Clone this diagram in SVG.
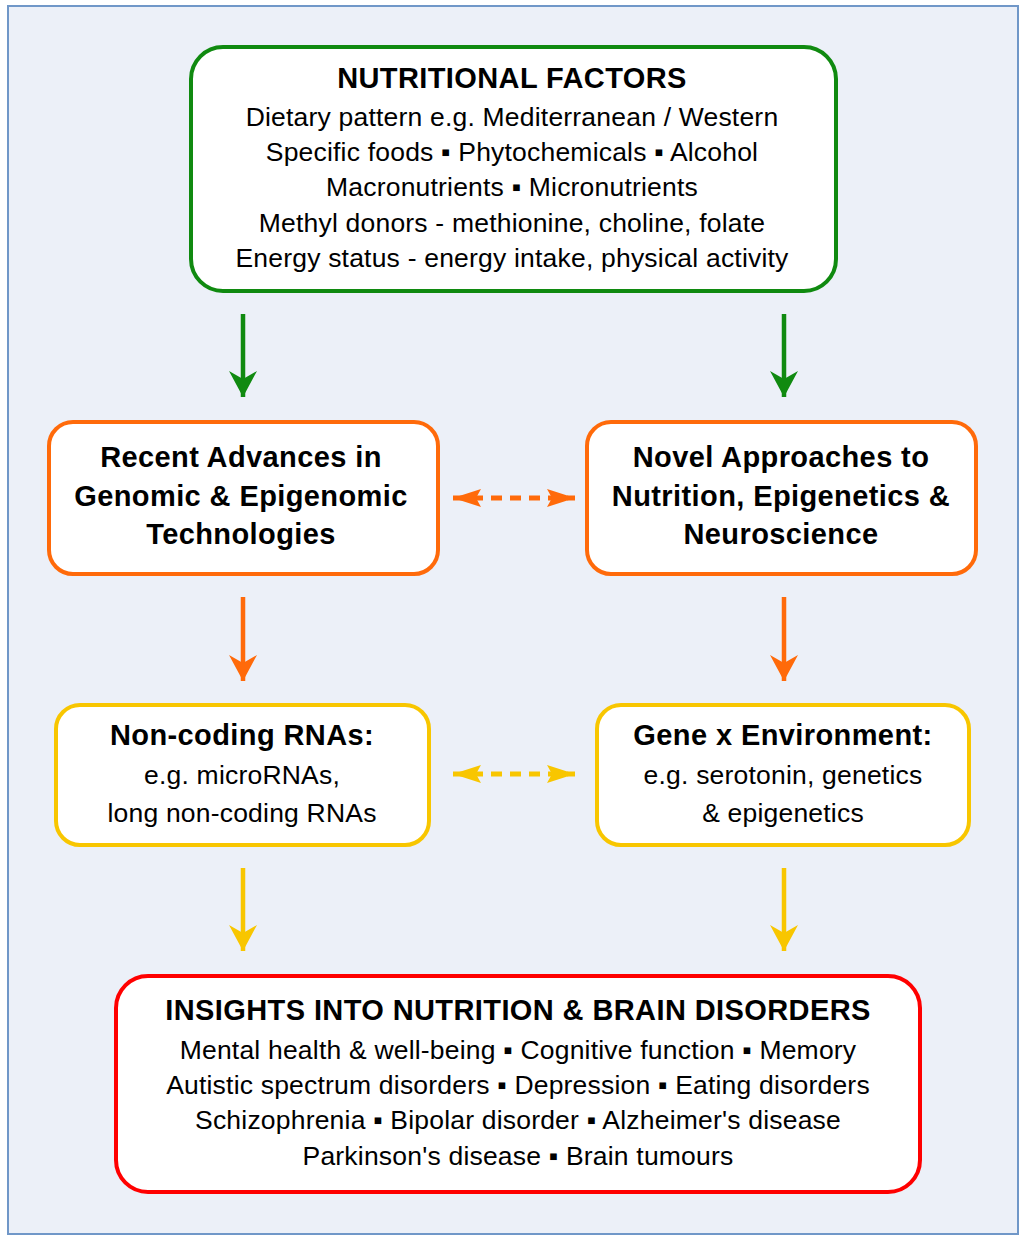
<svg xmlns="http://www.w3.org/2000/svg" width="1024" height="1241" viewBox="0 0 1024 1241">
<defs>
<style>
.bg{fill:#ECF0F8;stroke:#7097C8;stroke-width:2}
.box{fill:#FFFFFF;stroke-width:4}
.h{font-family:"Liberation Sans",Arial,sans-serif;font-weight:bold;font-size:29px;letter-spacing:0.4px;fill:#000;text-anchor:middle}
.t{font-family:"Liberation Sans",Arial,sans-serif;font-size:26.5px;letter-spacing:0.2px;fill:#000;text-anchor:middle}
.g{stroke:#108A10}
.o{stroke:#FF6A0A}
.y{stroke:#F8C600}
.r{stroke:#FF0000}
.ln{stroke-width:4.5;fill:none}
.dash{stroke-width:5;fill:none;stroke-dasharray:11 8}
</style>
<marker id="ag" markerUnits="userSpaceOnUse" markerWidth="30" markerHeight="30" refX="26" refY="14" orient="auto" viewBox="0 0 30 28"><path d="M0,0 L26,14 L0,28 L8,14 Z" fill="#108A10"/></marker>
<marker id="ao" markerUnits="userSpaceOnUse" markerWidth="30" markerHeight="30" refX="26" refY="14" orient="auto" viewBox="0 0 30 28"><path d="M0,0 L26,14 L0,28 L8,14 Z" fill="#FF6A0A"/></marker>
<marker id="ay" markerUnits="userSpaceOnUse" markerWidth="30" markerHeight="30" refX="26" refY="14" orient="auto" viewBox="0 0 30 28"><path d="M0,0 L26,14 L0,28 L8,14 Z" fill="#F8C600"/></marker>
<marker id="dO" markerUnits="userSpaceOnUse" markerWidth="30" markerHeight="20" refX="28" refY="9" orient="auto-start-reverse" viewBox="0 0 30 18"><path d="M0,0 L28,9 L0,18 L5,9 Z" fill="#FF6A0A"/></marker>
<marker id="dY" markerUnits="userSpaceOnUse" markerWidth="30" markerHeight="20" refX="28" refY="9" orient="auto-start-reverse" viewBox="0 0 30 18"><path d="M0,0 L28,9 L0,18 L5,9 Z" fill="#F8C600"/></marker>
</defs>
<rect class="bg" x="8" y="6" width="1010" height="1228"/>

<g id="connectors">
<line class="ln g" x1="243" y1="314" x2="243" y2="397" marker-end="url(#ag)"/>
<line class="ln g" x1="784" y1="314" x2="784" y2="397" marker-end="url(#ag)"/>
<line class="ln o" x1="243" y1="597" x2="243" y2="681" marker-end="url(#ao)"/>
<line class="ln o" x1="784" y1="597" x2="784" y2="681" marker-end="url(#ao)"/>
<line class="ln y" x1="243" y1="868" x2="243" y2="951" marker-end="url(#ay)"/>
<line class="ln y" x1="784" y1="868" x2="784" y2="951" marker-end="url(#ay)"/>
<line class="dash o" x1="453" y1="498" x2="575" y2="498" marker-start="url(#dO)" marker-end="url(#dO)"/>
<line class="dash y" x1="453" y1="774" x2="575" y2="774" marker-start="url(#dY)" marker-end="url(#dY)"/>
</g>

<g id="nutritional-factors">
<rect class="box g" x="191" y="47" width="645" height="244" rx="32"/>
<text class="h" x="512" y="88">NUTRITIONAL FACTORS</text>
<text class="t" x="512" y="126">Dietary pattern e.g. Mediterranean / Western</text>
<text class="t" x="512" y="161">Specific foods ▪ Phytochemicals ▪ Alcohol</text>
<text class="t" x="512" y="196">Macronutrients ▪ Micronutrients</text>
<text class="t" x="512" y="232">Methyl donors - methionine, choline, folate</text>
<text class="t" x="512" y="267">Energy status - energy intake, physical activity</text>
</g>

<g id="recent-advances">
<rect class="box o" x="49" y="422" width="389" height="152" rx="24"/>
<text class="h" x="241" y="467">Recent Advances in</text>
<text class="h" x="241" y="506">Genomic &amp; Epigenomic</text>
<text class="h" x="241" y="544">Technologies</text>
</g>

<g id="novel-approaches">
<rect class="box o" x="587" y="422" width="389" height="152" rx="24"/>
<text class="h" x="781" y="467">Novel Approaches to</text>
<text class="h" x="781" y="506">Nutrition, Epigenetics &amp;</text>
<text class="h" x="781" y="544">Neuroscience</text>
</g>

<g id="non-coding-rnas">
<rect class="box y" x="56" y="705" width="373" height="140" rx="24"/>
<text class="h" x="242" y="745">Non-coding RNAs:</text>
<text class="t" x="242" y="784">e.g. microRNAs,</text>
<text class="t" x="242" y="822">long non-coding RNAs</text>
</g>

<g id="gene-environment">
<rect class="box y" x="597" y="705" width="372" height="140" rx="24"/>
<text class="h" x="783" y="745">Gene x Environment:</text>
<text class="t" x="783" y="784">e.g. serotonin, genetics</text>
<text class="t" x="783" y="822">&amp; epigenetics</text>
</g>

<g id="insights">
<rect class="box r" x="116" y="976" width="804" height="216" rx="32"/>
<text class="h" x="518" y="1020">INSIGHTS INTO NUTRITION &amp; BRAIN DISORDERS</text>
<text class="t" x="518" y="1059">Mental health &amp; well-being ▪ Cognitive function ▪ Memory</text>
<text class="t" x="518" y="1094">Autistic spectrum disorders ▪ Depression ▪ Eating disorders</text>
<text class="t" x="518" y="1129">Schizophrenia ▪ Bipolar disorder ▪ Alzheimer's disease</text>
<text class="t" x="518" y="1165">Parkinson's disease ▪ Brain tumours</text>
</g>
</svg>
